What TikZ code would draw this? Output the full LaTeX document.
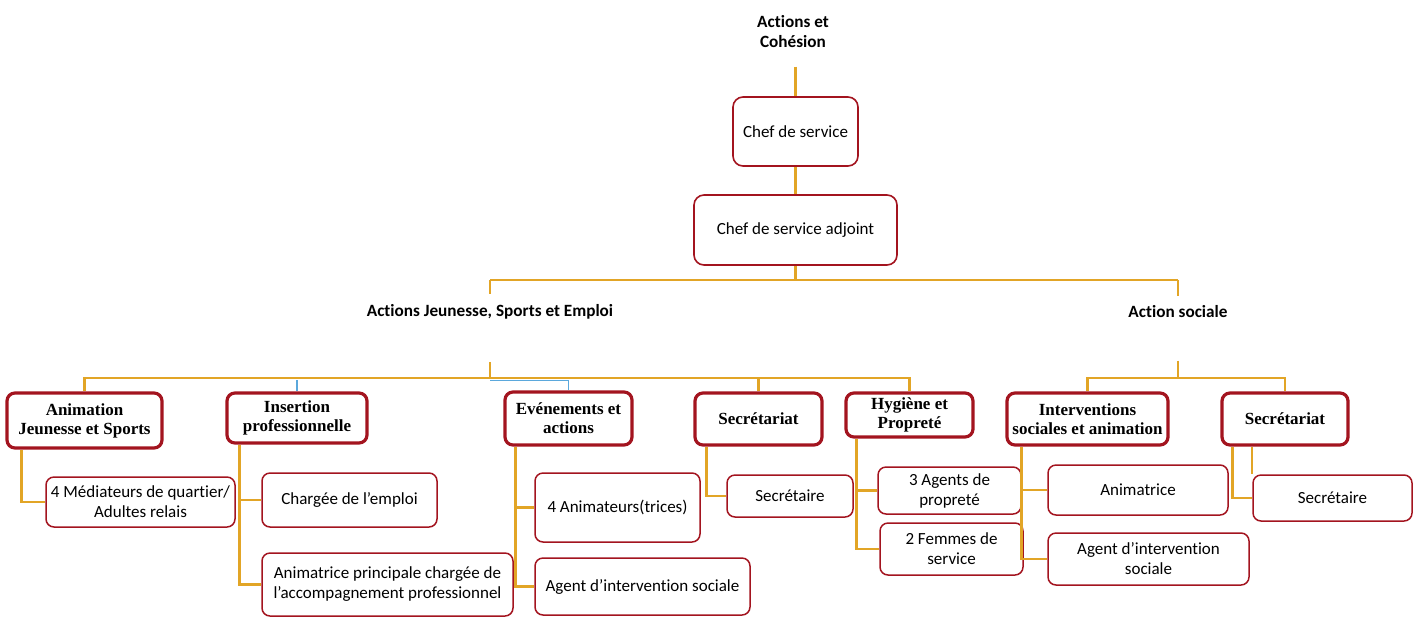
\documentclass[tikz,border=0pt]{standalone}
\usepackage{fontspec}
\setmainfont{Carlito}[Ligatures={NoCommon,NoRare,NoDiscretionary}]
\newfontfamily\headfont{Liberation Serif}
\usepackage{xcolor}
\usepackage{tikz}
\definecolor{boxred}{HTML}{A3141F}
\definecolor{linegold}{HTML}{E2A526}
\definecolor{lineblue}{HTML}{5BA8DC}

\begin{document}
\begin{tikzpicture}[
  x=0.5pt, y=-0.5pt,
  font=\fontsize{8.5}{10}\selectfont,
  wh/.style 2 args={minimum width=#1pt,minimum height=#2pt},
  conn/.style={draw=linegold,line width=1.2pt},
  bconn/.style={draw=lineblue,line width=0.7pt},
  pole/.style={draw=boxred,rounded corners=4pt,line width=1.6pt,fill=white,inner sep=0pt,align=center,font=\headfont\bfseries\fontsize{8.5}{9.6}\selectfont},
  cadre/.style={draw=boxred,rounded corners=5pt,line width=0.8pt,fill=white,inner sep=0pt,align=center},
  agent/.style={draw=boxred,rounded corners=4pt,line width=0.75pt,fill=white,inner sep=0pt,align=center},
  service/.style={align=center,font=\bfseries\fontsize{8.6}{10}\selectfont,inner sep=1pt}
]
\useasboundingbox (0,0) rectangle (1417,617);
\node[service] (top)  at (793,32)  {Actions et\\Cohésion};
\node[cadre,wh={62.5}{34.5}] (chef) at (795.5,131.5) {Chef de service};
\node[cadre,wh={101.5}{35}]  (adj)  at (795.5,230)   {Chef de service adjoint};
\node[service] (ajse) at (490,312) {Actions Jeunesse, Sports et Emploi};
\node[service] (asoc) at (1178,312) {Action sociale};
\coordinate (bus) at (0,280);
\coordinate (bus2) at (0,378);

\node[pole,wh={77.5}{27.5}] (anim)  at (84.5,420.5) {Animation\\Jeunesse et Sports};
\node[pole,wh={70}{25}]     (ins)   at (297,418)    {Insertion\\professionnelle};
\node[pole,wh={63.5}{26.5}] (evt)   at (568.5,418.5) {Evénements et\\actions};
\node[pole,wh={63.5}{26}]   (sec1)  at (758.5,419)  {Secrétariat};
\node[pole,wh={63.5}{22}]   (hyg)   at (909.5,415)  {Hygiène et\\Propreté};
\node[pole,wh={80.5}{26}]   (inter) at (1087.5,419) {Interventions\\sociales et animation};
\node[pole,wh={63}{26}]     (sec2)  at (1285,419)   {Secrétariat};

\node[agent,wh={94.5}{25}]   (med)    at (140.5,502)  {4 Médiateurs de quartier/\\Adultes relais};
\node[agent,wh={87.5}{27}]   (emploi) at (349.5,500)  {Chargée de l’emploi};
\node[agent,wh={125.5}{31.5}] (accomp) at (387.5,584.5) {Animatrice principale chargée de\\l’accompagnement professionnel};
\node[agent,wh={82.5}{34.5}] (animt)  at (617.5,507.5) {4 Animateurs(trices)};
\node[agent,wh={107.5}{28.5}] (agent1) at (642.5,586.5) {Agent d’intervention sociale};
\node[agent,wh={63}{21}]     (secr1)  at (790,496)    {Secrétaire};
\node[agent,wh={71.5}{23.5}] (prop)   at (949.5,490.5) {3 Agents de\\propreté};
\node[agent,wh={71.5}{26}]   (femmes) at (951.5,549)  {2 Femmes de\\service};
\node[agent,wh={90}{25}]     (anime)  at (1138,490)   {Animatrice};
\node[agent,wh={100.5}{26}]  (agent2) at (1148.5,559) {Agent d’intervention\\sociale};
\node[agent,wh={79.5}{23}]   (secr2)  at (1332.5,498) {Secrétaire};

\draw[conn,shorten <=8pt] (top.south -| chef.north) -- (chef.north);
\draw[conn] (chef) -- (adj);
\draw[conn] (adj.south) -- (adj.south |- bus);
\draw[conn] (ajse.north |- bus) -- (asoc.north |- bus);
\draw[conn,shorten >=4pt] (ajse.north |- bus) -- (ajse.north);
\draw[conn,shorten >=4pt] (asoc.north |- bus) -- (asoc.north);
\draw[conn,shorten <=20pt] (ajse.south) -- (ajse.south |- bus2);
\draw[conn,shorten <=20pt] (asoc.south) -- (asoc.south |- bus2);

\draw[conn] (anim.north) |- (hyg.north |- bus2) -- (hyg.north);
\draw[conn] (sec1.north) -- (sec1.north |- bus2);
\draw[bconn] ([yshift=-1pt]ins.north |- bus2) -- (ins.north);
\draw[bconn] ([yshift=-1.2pt]ajse.south |- bus2) -| (evt.north);
\draw[conn] (inter.north) |- (sec2.north |- bus2) -- (sec2.north);

\draw[conn] ([xshift=8pt]anim.south west) |- (med.west);
\draw[conn] ([xshift=7pt]ins.south west) |- (accomp.west);
\draw[conn] ([xshift=7pt]ins.south west |- emploi.west) -- (emploi.west);
\draw[conn] ([xshift=6pt]evt.south west) |- (agent1.west);
\draw[conn] ([xshift=6pt]evt.south west |- animt.west) -- (animt.west);
\draw[conn] ([xshift=6.5pt]sec1.south west) |- (secr1.west);
\draw[conn] ([xshift=6pt]hyg.south west) |- (femmes.west);
\draw[conn] ([xshift=6pt]hyg.south west |- prop.west) -- (prop.west);
\draw[conn] ([xshift=8pt]inter.south west) |- (agent2.west);
\draw[conn] ([xshift=8pt]inter.south west |- anime.west) -- (anime.west);
\draw[conn] ([xshift=6pt]sec2.south west) |- (secr2.west);
\draw[conn] (secr2.north west |- sec2.south) -- (secr2.north west);
\end{tikzpicture}
\end{document}
